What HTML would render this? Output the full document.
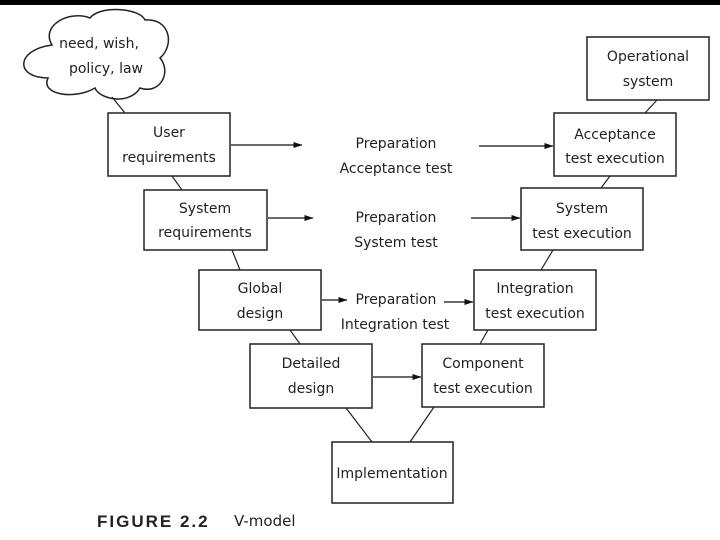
<!DOCTYPE html>
<html><head><style>
body{margin:0;width:720px;height:540px;overflow:hidden;background:#fff;font-family:"DejaVu Sans","Liberation Sans",sans-serif;}
svg{position:absolute;left:0;top:0}
text{font-family:"DejaVu Sans","Liberation Sans",sans-serif;font-size:14px;fill:#222;text-anchor:middle}
</style></head><body>
<svg width="720" height="540" viewBox="0 0 720 540">
<defs><marker id="a" markerWidth="9" markerHeight="6" refX="8.5" refY="3" orient="auto" markerUnits="userSpaceOnUse"><path d="M0,0 L9,3 L0,6 z" fill="#111"/></marker></defs>
<rect x="0" y="0" width="720" height="5" fill="#000"/>
<g fill="#fff" stroke="#222" stroke-width="1.5">
<path d="M52,45 C40,25 70,10 90,18 C100,5 140,8 145,20 C170,18 175,45 160,58 C172,72 160,95 140,88 C130,105 100,100 95,88 C75,100 40,95 48,78 C15,78 15,50 52,45 Z"/>
<rect x="108" y="113" width="122" height="63"/>
<rect x="144" y="190" width="123" height="60"/>
<rect x="199" y="270" width="122" height="60"/>
<rect x="250" y="344" width="122" height="64"/>
<rect x="332" y="442" width="121" height="61"/>
<rect x="422" y="344" width="122" height="63"/>
<rect x="474" y="270" width="122" height="60"/>
<rect x="521" y="188" width="122" height="62"/>
<rect x="554" y="113" width="122" height="63"/>
<rect x="587" y="37" width="122" height="63"/>
</g>
<g stroke="#222" stroke-width="1.2">
<line x1="112" y1="97" x2="125" y2="113"/>
<line x1="172" y1="176" x2="182" y2="190"/>
<line x1="232" y1="250" x2="240" y2="270"/>
<line x1="290" y1="330" x2="300" y2="344"/>
<line x1="346" y1="408" x2="372" y2="442"/>
<line x1="434" y1="407" x2="410" y2="442"/>
<line x1="488" y1="330" x2="480" y2="344"/>
<line x1="553" y1="250" x2="541" y2="270"/>
<line x1="610" y1="176" x2="601" y2="188"/>
<line x1="657" y1="100" x2="645" y2="113"/>
</g>
<g stroke="#111" stroke-width="1.3" marker-end="url(#a)">
<line x1="231" y1="145" x2="302" y2="145"/>
<line x1="479" y1="146" x2="553" y2="146"/>
<line x1="268" y1="218" x2="313" y2="218"/>
<line x1="471" y1="218" x2="520" y2="218"/>
<line x1="322" y1="300" x2="347" y2="300"/>
<line x1="444" y1="302" x2="473" y2="302"/>
<line x1="373" y1="377" x2="421" y2="377"/>
</g>
<text x="99" y="48">need, wish,</text><text x="106" y="73">policy, law</text>
<text x="169" y="137">User</text><text x="169" y="162">requirements</text>
<text x="205" y="213">System</text><text x="205" y="237">requirements</text>
<text x="260" y="293">Global</text><text x="260" y="318">design</text>
<text x="311" y="368">Detailed</text><text x="311" y="393">design</text>
<text x="392" y="478">Implementation</text>
<text x="483" y="368">Component</text><text x="483" y="393">test execution</text>
<text x="535" y="293">Integration</text><text x="535" y="318">test execution</text>
<text x="582" y="213">System</text><text x="582" y="238">test execution</text>
<text x="615" y="139">Acceptance</text><text x="615" y="163">test execution</text>
<text x="648" y="61">Operational</text><text x="648" y="86">system</text>
<text x="396" y="148">Preparation</text><text x="396" y="173">Acceptance test</text>
<text x="396" y="222">Preparation</text><text x="396" y="247">System test</text>
<text x="396" y="304">Preparation</text><text x="395" y="329">Integration test</text>
<text x="97" y="527" style="text-anchor:start;font-weight:bold;letter-spacing:2px;font-size:17px;font-family:'Liberation Sans',sans-serif">FIGURE 2.2</text>
<text x="234" y="526" style="text-anchor:start;font-size:15px">V-model</text>
</svg>
</body></html>
